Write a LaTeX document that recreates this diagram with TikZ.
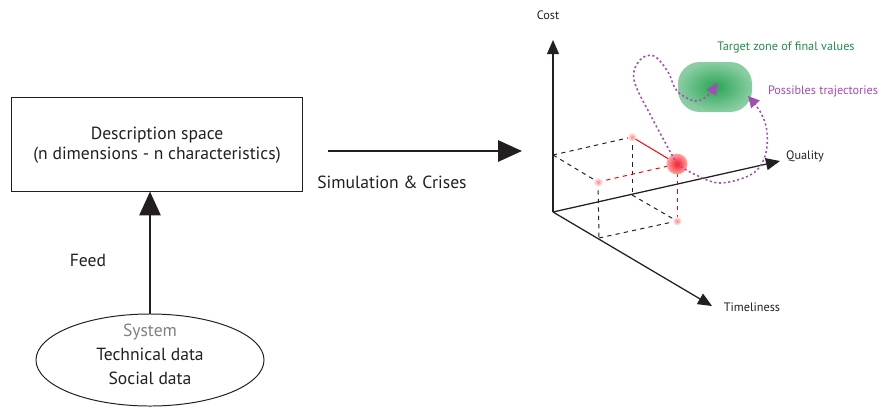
\documentclass[tikz,border=0pt]{standalone}
\usepackage{fontspec}
\setmainfont{PT Sans}
\usetikzlibrary{arrows.meta, positioning, shapes.geometric}

\definecolor{trajpurple}{RGB}{165,75,180}
\definecolor{zonegreen}{RGB}{40,165,85}
\definecolor{labelgreen}{RGB}{35,140,75}
\definecolor{inkgray}{RGB}{35,31,32}

\begin{document}
\begin{tikzpicture}[
    x=0.025cm, y=-0.025cm,
    txt/.style={font=\fontsize{12.5}{14.3}\selectfont, text=inkgray, align=center},
    smalltxt/.style={font=\fontsize{8.7}{10}\selectfont, text=inkgray},
    bigarrow/.style={-{Triangle[length=17pt, width=15pt]}, line width=1.8pt, inkgray},
    axis/.style={-{Triangle[length=10pt, width=8.5pt]}, line width=0.9pt, inkgray},
    edge/.style={dashed, line width=0.7pt, inkgray},
    rededge/.style={red, dashed, line width=0.7pt},
    traj/.style={trajpurple, line width=1.1pt, dash pattern=on 1.5pt off 1.8pt, -{Triangle[length=8pt, width=8pt]}},
    faintdot/.style={inner color=red!45, outer color=red!6}
]
\useasboundingbox (0,0) rectangle (880,410);

% left part: description space fed by the system
\node[draw, line width=0.7pt, inkgray, minimum width=7.25cm, minimum height=2.35cm] (descr) at (157,144) {};
\node[txt] (descrtext) at (157,145) {Description space\\(n dimensions - n characteristics)};
\node[ellipse, draw, line width=0.7pt, inkgray, minimum width=5.7cm, minimum height=2.3cm] (system) at (150,360) {};
\node[txt, font=\fontsize{12.5}{17}\selectfont] (systext) at (150,354) {\textcolor{gray}{System}\\Technical data\\Social data};
\node[txt] (feed) at (88,260) {Feed};

\draw[bigarrow] (system.north) -- (system.north |- descr.south);

\coordinate (simstart) at (328,151);
\coordinate (simend) at (522,151);
\draw[bigarrow] (simstart) -- (simend);
\node[txt] (simlabel) at (392,182) {Simulation \& Crises};

% axes
\coordinate (O) at (553,212);
\coordinate (costtip) at (553,40);
\coordinate (qualtip) at (780,161);
\coordinate (timetip) at (712,306);
\draw[axis] (O) -- (costtip);
\draw[axis] (O) -- (qualtip);
\draw[axis] (O) -- (timetip);
\node[smalltxt] (costlabel) at (548,15) {Cost};
\node[smalltxt] (quallabel) at (805,156) {Quality};
\node[smalltxt] (timelabel) at (752,307) {Timeliness};

% projection box
\coordinate (ctop) at (553,155);
\coordinate (qtop) at (632,137);
\coordinate (ttop) at (598,182);
\coordinate (pt) at (677,164);
\coordinate (qbot) at (632,195);
\coordinate (tbot) at (599,238);
\coordinate (ptbot) at (677,221);
\draw[edge] (ctop) -- (qtop);
\draw[edge] (ctop) -- (ttop);
\draw[edge] (qtop) -- (qbot);
\draw[edge] (ttop) -- (tbot);
\draw[edge] (qbot) -- (ptbot);
\draw[edge] (tbot) -- (ptbot);
\draw[red, line width=0.7pt] (qtop) -- (pt);
\draw[rededge] (ttop) -- (pt);
\draw[rededge] (pt) -- (ptbot);

\shade[faintdot] (qtop) circle (0.11cm);
\shade[faintdot] (ttop) circle (0.11cm);
\shade[faintdot] (ptbot) circle (0.11cm);
\shade[inner color=red!90, outer color=red!35] (pt) circle (0.26cm);

% target zone
\node[rounded corners=0.55cm, minimum width=1.85cm, minimum height=1.25cm, shading=radial, inner color=zonegreen, outer color=zonegreen!55] (zone) at (715,87) {};
\node[smalltxt, text=labelgreen] (zonelabel) at (786,47) {Target zone of final values};
\node[smalltxt, text=trajpurple] (trajlabel) at (823,91) {Possibles trajectories};

% trajectories
\draw[traj] plot[smooth, tension=0.6] coordinates {(pt) (652,118) (634,80) (640,60) (654,56) (668,72) (677,91) (695,101) (708,95) (717,83)};
\draw[traj] plot[smooth, tension=0.6] coordinates {(pt) (694,174) (720,183) (752,174) (765,156) (767,132) (761,113) (748,96)};

\end{tikzpicture}
\end{document}
